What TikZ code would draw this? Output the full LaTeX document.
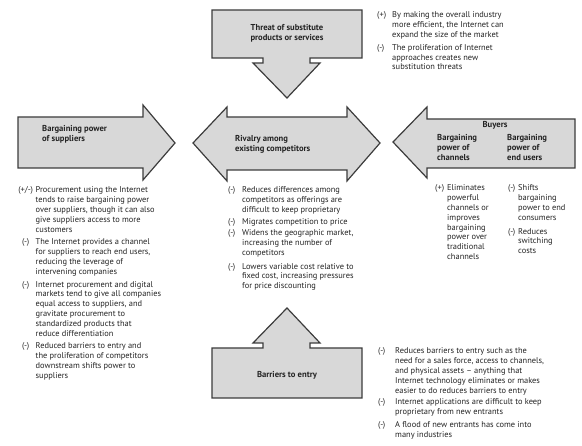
\documentclass[tikz,border=0pt]{standalone}
\usepackage{fontspec}
\setmainfont{PT Sans}
\definecolor{arrfill}{RGB}{216,216,216}
\definecolor{arrdraw}{RGB}{60,60,60}
\definecolor{txt}{RGB}{35,35,35}
\newcommand\lb[2]{\makebox[#1][l]{#2}}
\newcommand\lbc[2]{\makebox[#1][c]{#2}}
\begin{document}
\begin{tikzpicture}[x=1pt,y=-1pt,
  blockarrow/.style={fill=arrfill,draw=arrdraw,line width=1.2pt,line join=miter},
  title/.style={inner sep=0pt,font=\fontsize{8.6}{9.8}\selectfont\bfseries,text=txt},
  body/.style={inner sep=0pt,font=\fontsize{8.4}{9.8}\selectfont,text=txt,anchor=base west}]
\useasboundingbox (0,0) rectangle (582,446);
% arrows
\draw[blockarrow] (212,10) -- (362,10) -- (362,58) -- (310,58) -- (310,63) -- (320,63) -- (287,98) -- (253,63) -- (263,63) -- (263,58) -- (212,58) -- cycle;
\draw[blockarrow] (212,348) -- (263,348) -- (263,343) -- (253,343) -- (287,308) -- (320,343) -- (310,343) -- (310,348) -- (362,348) -- (362,398) -- (212,398) -- cycle;
\draw[blockarrow] (18,117) -- (143,117) -- (143,105) -- (175,143) -- (143,180) -- (143,168) -- (18,168) -- cycle;
\draw[blockarrow] (193,143) -- (227,107) -- (227,117) -- (347,117) -- (347,107) -- (380,143) -- (347,181) -- (347,170) -- (227,170) -- (227,181) -- cycle;
\draw[blockarrow] (393,142) -- (427,107) -- (427,119) -- (575,119) -- (575,168) -- (427,168) -- (427,178) -- cycle;
% titles
\node[title,anchor=base] (tthreat) at (287,31) {\begin{tabular}[t]{@{}c@{}}Threat of substitute\\products or services\end{tabular}};
\node[title,anchor=base west] (tsupp) at (42,132) {\begin{tabular}[t]{@{}l@{}}Bargaining power\\of suppliers\end{tabular}};
\node[title,anchor=base west] (trival) at (235,142) {\begin{tabular}[t]{@{}l@{}}Rivalry among\\existing competitors\end{tabular}};
\node[title,anchor=base] (tbuy) at (495,128) {Buyers};
\node[title,anchor=base west] (tchan) at (437,141) {\begin{tabular}[t]{@{}l@{}}Bargaining\\power of\\channels\end{tabular}};
\node[title,anchor=base west] (tend) at (507,141) {\begin{tabular}[t]{@{}l@{}}Bargaining\\power of\\end users\end{tabular}};
\node[title,anchor=base] (tbar) at (287,378) {Barriers to entry};
% body texts
\node[body] (bthreat) at (377,18) {\begin{tabular}[t]{@{}l@{}l@{}}
\lb{15pt}{(+)}&By making the overall industry\\
&more efficient, the Internet can\\
&expand the size of the market\\[3pt]
\lb{15pt}{(-)}&The proliferation of Internet\\
&approaches creates new\\
&substitution threats\end{tabular}};
\node[body] (bsupp) at (15.5,193) {\begin{tabular}[t]{@{}l@{}l@{}}
\lbc{20pt}{(+/-)}&Procurement using the Internet\\
&tends to raise bargaining power\\
&over suppliers, though it can also\\
&give suppliers access to more\\
&customers\\[3pt]
\lbc{20pt}{(-)}&The Internet provides a channel\\
&for suppliers to reach end users,\\
&reducing the leverage of\\
&intervening companies\\[3pt]
\lbc{20pt}{(-)}&Internet procurement and digital\\
&markets tend to give all companies\\
&equal access to suppliers, and\\
&gravitate procurement to\\
&standardized products that\\
&reduce differentiation\\[3pt]
\lbc{20pt}{(-)}&Reduced barriers to entry and\\
&the proliferation of competitors\\
&downstream shifts power to\\
&suppliers\end{tabular}};
\node[body] (brival) at (228,193) {\begin{tabular}[t]{@{}l@{}l@{}}
\lb{14pt}{(-)}&Reduces differences among\\
&competitors as offerings are\\
&difficult to keep proprietary\\[2pt]
\lb{14pt}{(-)}&Migrates competition to price\\[1.5pt]
\lb{14pt}{(-)}&Widens the geographic market,\\
&increasing the number of\\
&competitors\\[4pt]
\lb{14pt}{(-)}&Lowers variable cost relative to\\
&fixed cost, increasing pressures\\
&for price discounting\end{tabular}};
\node[body] (bchan) at (435,191) {\begin{tabular}[t]{@{}l@{}l@{}}
\lb{12pt}{(+)}&Eliminates\\
&powerful\\
&channels or\\
&improves\\
&bargaining\\
&power over\\
&traditional\\
&channels\end{tabular}};
\node[body] (bend) at (508,191) {\begin{tabular}[t]{@{}l@{}l@{}}
\lb{10pt}{(-)}&Shifts\\
&bargaining\\
&power to end\\
&consumers\\[4pt]
\lb{10pt}{(-)}&Reduces\\
&switching\\
&costs\end{tabular}};
\node[body] (bbar) at (378,354) {\begin{tabular}[t]{@{}l@{}l@{}}
\lb{17pt}{(-)}&Reduces barriers to entry such as the\\
&need for a sales force, access to channels,\\
&and physical assets -- anything that\\
&Internet technology eliminates or makes\\
&easier to do reduces barriers to entry\\[2pt]
\lb{17pt}{(-)}&Internet applications are difficult to keep\\
&proprietary from new entrants\\[3pt]
\lb{17pt}{(-)}&A flood of new entrants has come into\\
&many industries\end{tabular}};
\end{tikzpicture}
\end{document}
